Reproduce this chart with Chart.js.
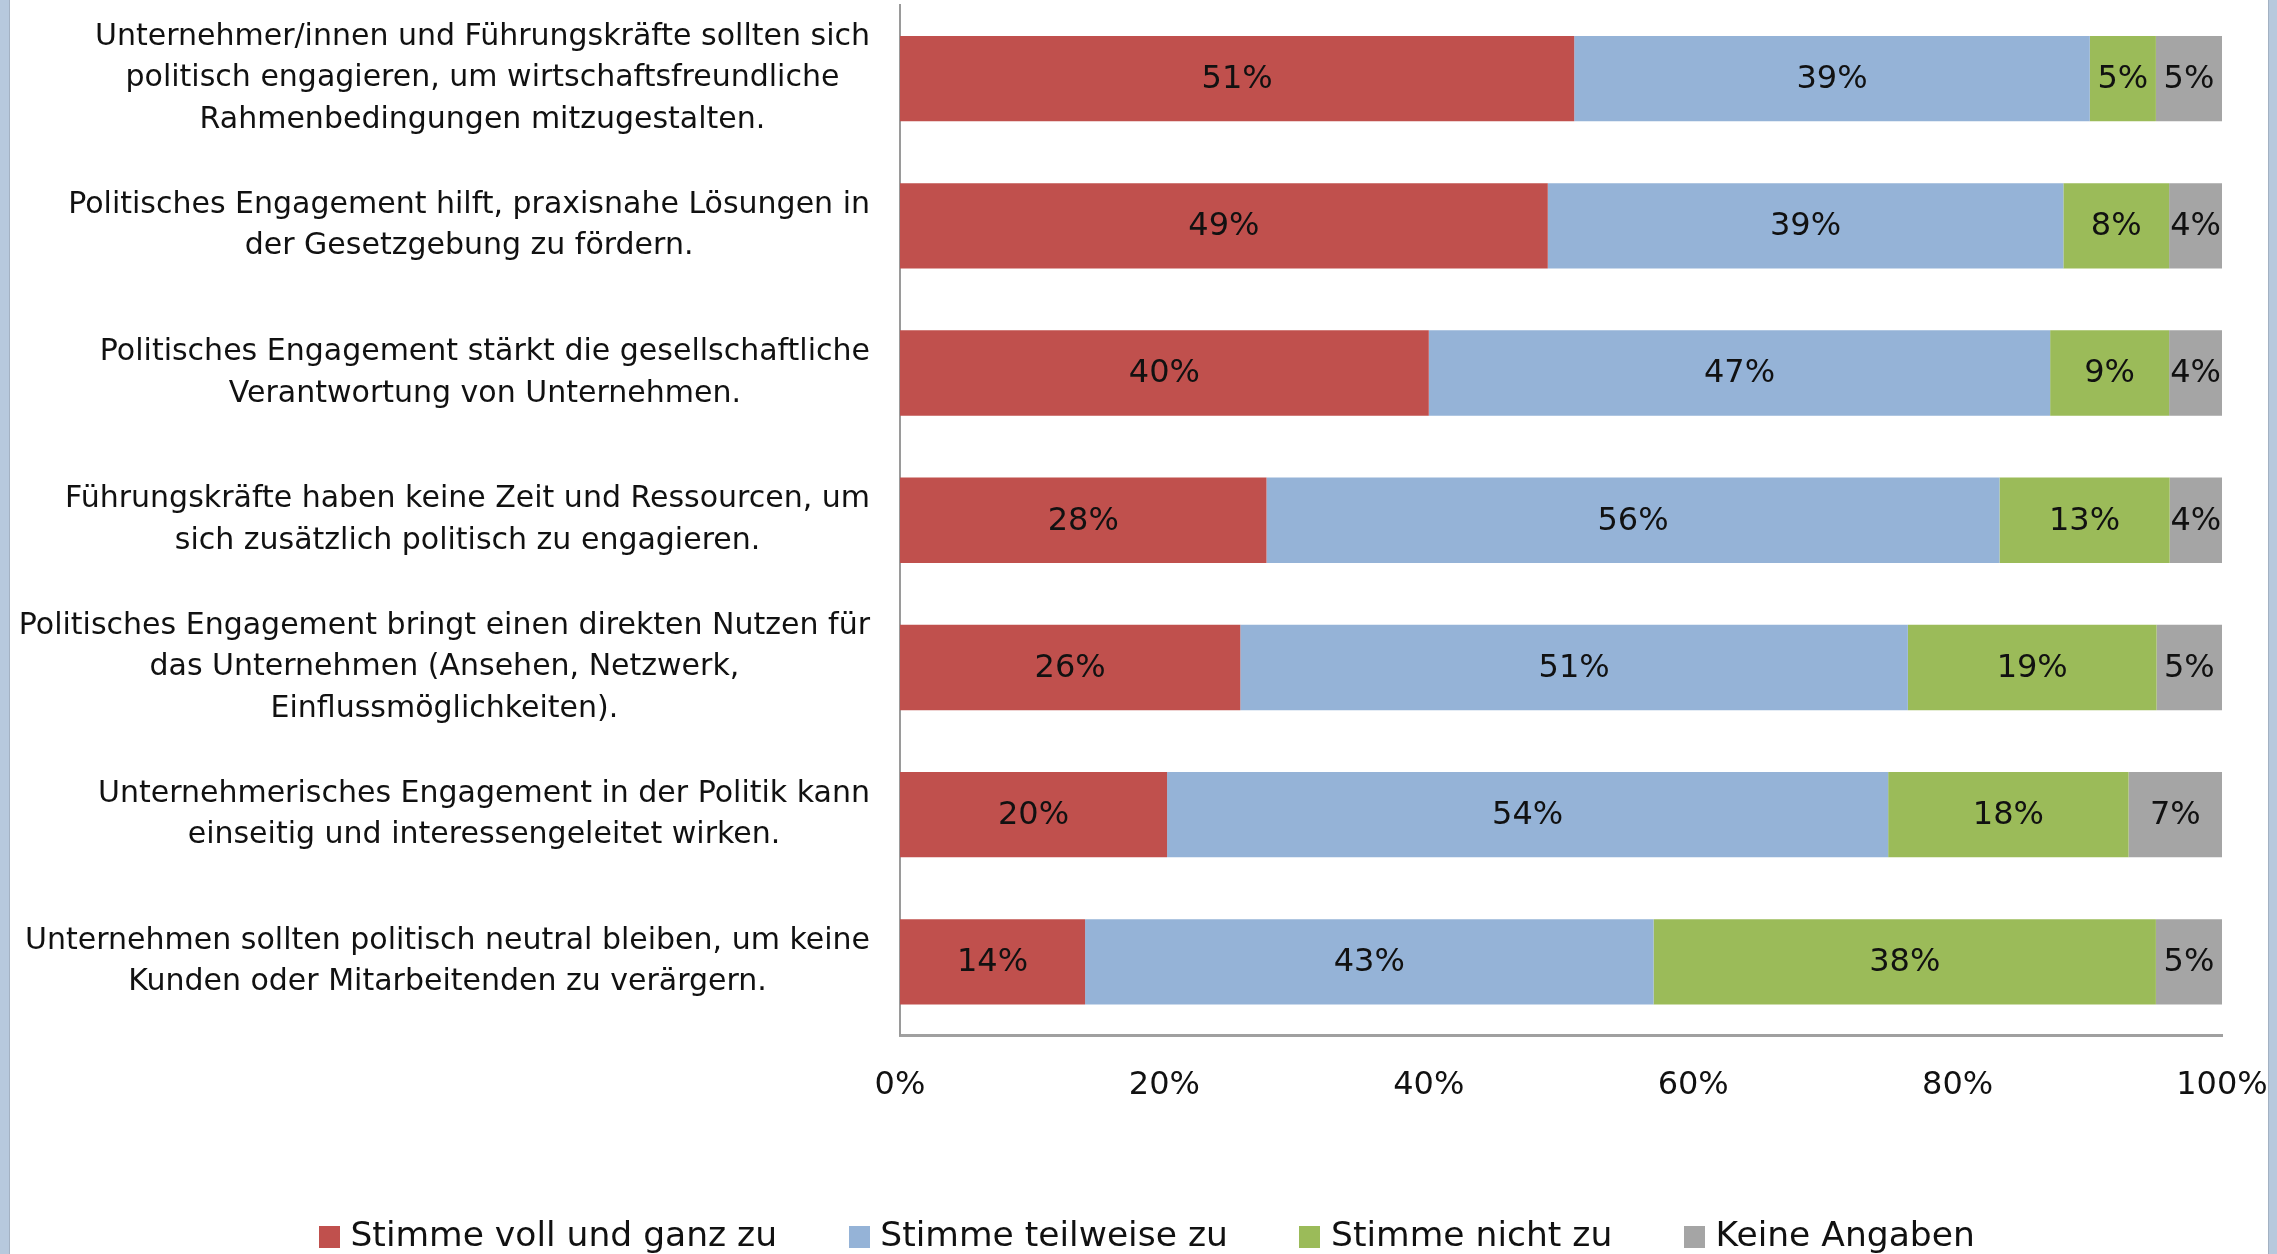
<!DOCTYPE html>
<html lang="de">
<head>
<meta charset="utf-8">
<title>Politisches Engagement von Unternehmen</title>
<script src="https://cdn.jsdelivr.net/npm/chart.js@4.4.1/dist/chart.umd.min.js"></script>
<style>
  html, body { margin: 0; padding: 0; background: #ffffff; overflow: hidden; }
  #wrap { position: relative; width: 2277px; height: 1254px; }
  canvas { display: block; }
</style>
</head>
<body>
<div id="wrap"><canvas id="chart" width="2277" height="1254"></canvas></div>
<script>
// Statements (one per bar), split into the lines they are printed on
const categories = [
  ["Unternehmer/innen und Führungskräfte sollten sich", "politisch engagieren, um wirtschaftsfreundliche", "Rahmenbedingungen mitzugestalten."],
  ["Politisches Engagement hilft, praxisnahe Lösungen in", "der Gesetzgebung zu fördern."],
  ["Politisches Engagement stärkt die gesellschaftliche", "Verantwortung von Unternehmen."],
  ["Führungskräfte haben keine Zeit und Ressourcen, um", "sich zusätzlich politisch zu engagieren."],
  ["Politisches Engagement bringt einen direkten Nutzen für", "das Unternehmen (Ansehen, Netzwerk,", "Einflussmöglichkeiten)."],
  ["Unternehmerisches Engagement in der Politik kann", "einseitig und interessengeleitet wirken."],
  ["Unternehmen sollten politisch neutral bleiben, um keine", "Kunden oder Mitarbeitenden zu verärgern."]
];

const seriesNames = ["Stimme voll und ganz zu", "Stimme teilweise zu", "Stimme nicht zu", "Keine Angaben"];

// Answer shares in percent
const fullAgree   = [51, 49, 40, 28, 26, 20, 14];
const partlyAgree = [39, 39, 47, 56, 51, 54, 43];
const disagree    = [5, 8, 9, 13, 19, 18, 38];
const noAnswer    = [5, 4, 4, 4, 5, 7, 5];

const xTickLabels = ["0%", "20%", "40%", "60%", "80%", "100%"];

const seriesColors = ["#C0504D", "#95B3D7", "#9BBB59", "#A5A5A5"];

const rawSeries = [fullAgree, partlyAgree, disagree, noAnswer];

// 100 % stacked: each row is scaled to its own total
const rowTotals = categories.map((_, i) => rawSeries.reduce((s, arr) => s + arr[i], 0));
const shareOf = arr => arr.map((v, i) => v / rowTotals[i] * 100);

const FONT = '"DejaVu Sans", "Liberation Sans", sans-serif';
Chart.defaults.font.family = FONT;
Chart.defaults.color = "#111111";

// Small square swatches for the legend
function makeSwatch(color) {
  const c = document.createElement("canvas");
  c.width = 21;
  c.height = 22;
  const g = c.getContext("2d");
  g.fillStyle = color;
  g.fillRect(0, 0, 21, 22);
  return c;
}
const swatches = seriesColors.map(makeSwatch);

// Row labels: each block right-aligned to the axis, its lines centred within the block
const rowLabels = {
  id: "rowLabels",
  afterDraw(chart) {
    const ctx = chart.ctx;
    const yScale = chart.scales.y;
    const right = chart.chartArea.left - 30;
    const lineHeight = 41.5;
    ctx.save();
    ctx.font = "30px " + FONT;
    ctx.fillStyle = "#111111";
    ctx.textAlign = "center";
    ctx.textBaseline = "middle";
    categories.forEach((lines, i) => {
      const cy = yScale.getPixelForValue(i);
      const w = Math.max(...lines.map(l => ctx.measureText(l).width));
      const cx = right - w / 2;
      lines.forEach((line, j) => {
        ctx.fillText(line, cx, cy + (j - (lines.length - 1) / 2) * lineHeight);
      });
    });
    ctx.restore();
  }
};

// Percent values printed in the middle of each segment
const segmentLabels = {
  id: "segmentLabels",
  afterDatasetsDraw(chart) {
    const ctx = chart.ctx;
    ctx.save();
    ctx.font = "32px " + FONT;
    ctx.fillStyle = "#111111";
    ctx.textAlign = "center";
    ctx.textBaseline = "middle";
    chart.data.datasets.forEach((ds, di) => {
      const meta = chart.getDatasetMeta(di);
      meta.data.forEach((bar, i) => {
        const p = bar.getProps(["x", "y", "base"], true);
        ctx.fillText(rawSeries[di][i] + "%", (p.x + p.base) / 2, p.y + 1);
      });
    });
    ctx.restore();
  }
};

// Window frame strips on both sides
const frame = {
  id: "frame",
  beforeDraw(chart) {
    const ctx = chart.ctx;
    ctx.save();
    ctx.fillStyle = "#ffffff";
    ctx.fillRect(0, 0, chart.width, chart.height);
    ctx.restore();
  },
  afterDraw(chart) {
    const ctx = chart.ctx;
    const w = chart.width, h = chart.height;
    ctx.save();
    ctx.fillStyle = "#B7C9DD";
    ctx.fillRect(0, 0, 9, h);
    ctx.fillRect(w - 8, 0, 8, h);
    ctx.fillStyle = "#A3B1C2";
    ctx.fillRect(9, 0, 1, h);
    ctx.fillRect(w - 9, 0, 1, h);
    ctx.restore();
  }
};

new Chart(document.getElementById("chart"), {
  type: "bar",
  data: {
    labels: categories,
    datasets: rawSeries.map((arr, k) => ({
      label: seriesNames[k],
      data: shareOf(arr),
      backgroundColor: seriesColors[k],
      borderWidth: 0,
      categoryPercentage: 1.0,
      barPercentage: 0.58
    }))
  },
  options: {
    indexAxis: "y",
    responsive: false,
    devicePixelRatio: 1,
    animation: false,
    layout: { padding: { top: 5, right: 55, bottom: -10, left: 78 } },
    scales: {
      x: {
        stacked: true,
        min: 0,
        max: 100,
        ticks: {
          stepSize: 20,
          padding: 0,
          font: { size: 32 },
          color: "#111111",
          callback: (value, index) => xTickLabels[index]
        },
        grid: { display: false, drawTicks: true, tickLength: 31 },
        border: { display: true, color: "#A0A0A0", width: 3 },
        afterFit(scale) { scale.height = 106; }
      },
      y: {
        stacked: true,
        ticks: { display: false },
        grid: { display: false, drawTicks: false },
        border: { display: true, color: "#9A9A9A", width: 2 },
        afterFit(scale) { scale.width = 822; }
      }
    },
    plugins: {
      legend: {
        position: "bottom",
        labels: {
          font: { size: 34.5 },
          color: "#111111",
          usePointStyle: true,
          pointStyleWidth: 8,
          boxHeight: 22,
          padding: 78,
          generateLabels(chart) {
            const items = Chart.defaults.plugins.legend.labels.generateLabels(chart);
            items.forEach((item, i) => { item.pointStyle = swatches[i]; });
            return items;
          }
        }
      },
      tooltip: { enabled: false }
    }
  },
  plugins: [frame, rowLabels, segmentLabels]
});
</script>
</body>
</html>
